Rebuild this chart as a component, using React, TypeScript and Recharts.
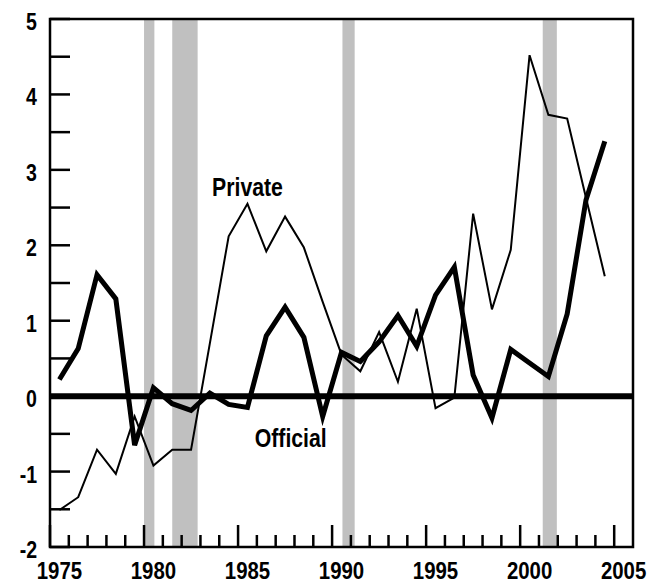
import { LineChart, Line, XAxis, YAxis, ReferenceArea, ReferenceLine, ReferenceDot } from "recharts";

// 차트 크기 / 레이아웃
const W = 647;
const H = 584;
const MARGIN = { top: 19, right: 14, left: 0, bottom: 0 };
const Y_AXIS_W = 50;
const X_AXIS_H = 37;
const FONT = '"Liberation Sans", Arial, sans-serif';
const NARROW = 0.85; // 원본은 condensed 서체 → 가로로 눌러서 흉내

const X_MIN = 1975;
const X_MAX = 2006;

// 연도 (점은 연중간에 찍힘)
const years = [
  1975, 1976, 1977, 1978, 1979, 1980, 1981, 1982, 1983, 1984,
  1985, 1986, 1987, 1988, 1989, 1990, 1991, 1992, 1993, 1994,
  1995, 1996, 1997, 1998, 1999, 2000, 2001, 2002, 2003, 2004,
];

const official = [
  0.22, 0.63, 1.61, 1.29, -0.65, 0.11, -0.1, -0.19, 0.04, -0.11,
  -0.15, 0.8, 1.18, 0.78, -0.27, 0.58, 0.46, 0.72, 1.07, 0.66,
  1.34, 1.71, 0.28, -0.29, 0.62, 0.44, 0.26, 1.09, 2.6, 3.38,
];

const privateFlows = [
  -1.51, -1.34, -0.71, -1.03, -0.27, -0.92, -0.71, -0.71, 0.7, 2.12,
  2.55, 1.92, 2.38, 1.97, 1.25, 0.55, 0.33, 0.85, 0.19, 1.16,
  -0.16, -0.02, 2.42, 1.15, 1.94, 4.52, 3.73, 3.68, 2.63, 1.59,
];

// 경기침체 구간 (음영)
const recessions: [number, number][] = [
  [1980.0, 1980.55],
  [1981.5, 1982.85],
  [1990.55, 1991.2],
  [2001.2, 2001.95],
];

const xTicks = Array.from({ length: X_MAX - X_MIN + 1 }, (_, i) => X_MIN + i);
const yTicks = [-2, -1.5, -1, -0.5, 0, 0.5, 1, 1.5, 2, 2.5, 3, 3.5, 4, 4.5, 5];

const data = years.map((yr, i) => ({
  x: yr + 0.5,
  official: official[i],
  private: privateFlows[i],
}));

const plotW = W - MARGIN.left - MARGIN.right - Y_AXIS_W;
const halfYear = plotW / (X_MAX - X_MIN) / 2;

function NarrowText({ x, y, anchor, size, children }: any) {
  return (
    <text
      transform={`translate(${x},${y}) scale(${NARROW},1)`}
      x={0}
      y={0}
      textAnchor={anchor}
      fontFamily={FONT}
      fontWeight="bold"
      fontSize={size}
      fill="#000"
    >
      {children}
    </text>
  );
}

function XTick(props: any) {
  const { x, y, payload } = props;
  const v = payload.value as number;
  const major = v % 5 === 0;
  return (
    <g>
      {v !== X_MAX && (
        <line x1={x} x2={x} y1={y} y2={y - (major ? 22 : 12)} stroke="#000" strokeWidth={2.5} />
      )}
      {major && v < X_MAX && (
        <NarrowText x={x + halfYear} y={y + 32} anchor="middle" size={24}>
          {v}
        </NarrowText>
      )}
    </g>
  );
}

function YTick(props: any) {
  const { x, y, payload } = props;
  const v = payload.value as number;
  return (
    <g>
      <line x1={x} x2={x + 20} y1={y} y2={y} stroke="#000" strokeWidth={2.5} />
      {Number.isInteger(v) && (
        <NarrowText x={x - 13} y={y + 11} anchor="end" size={23}>
          {v}
        </NarrowText>
      )}
    </g>
  );
}

const seriesLabel = (text: string) => (p: any) => (
  <NarrowText x={p.cx} y={p.cy + 9} anchor="middle" size={25}>
    {text}
  </NarrowText>
);

export default function App() {
  return (
    <div style={{ position: "absolute", left: 0, top: 0, background: "#fff" }}>
      <LineChart width={W} height={H} data={data} margin={MARGIN}>
        <XAxis
          dataKey="x"
          type="number"
          domain={[X_MIN, X_MAX]}
          ticks={xTicks}
          interval={0}
          allowDataOverflow
          height={X_AXIS_H}
          axisLine={false}
          tickLine={false}
          tickSize={0}
          tickMargin={0}
          tick={XTick}
        />
        <YAxis
          type="number"
          domain={[-2, 5]}
          ticks={yTicks}
          interval={0}
          allowDataOverflow
          width={Y_AXIS_W}
          axisLine={false}
          tickLine={false}
          tickSize={0}
          tickMargin={0}
          tick={YTick}
        />
        {recessions.map(([a, b]) => (
          <ReferenceArea key={a} x1={a} x2={b} y1={-2} y2={5} fill="#c0c0c0" fillOpacity={1} stroke="none" />
        ))}
        <ReferenceArea
          x1={X_MIN}
          x2={X_MAX}
          y1={-2}
          y2={5}
          fill="none"
          stroke="#000"
          strokeWidth={2.5}
        />
        <ReferenceLine y={0} stroke="#000" strokeWidth={6} />
        <Line
          type="linear"
          dataKey="official"
          stroke="#000"
          strokeWidth={5}
          dot={false}
          isAnimationActive={false}
        />
        <Line
          type="linear"
          dataKey="private"
          stroke="#000"
          strokeWidth={2}
          dot={false}
          isAnimationActive={false}
        />
        <ReferenceDot x={1985.5} y={2.77} r={1} shape={seriesLabel("Private")} />
        <ReferenceDot x={1987.8} y={-0.55} r={1} shape={seriesLabel("Official")} />
      </LineChart>
    </div>
  );
}
